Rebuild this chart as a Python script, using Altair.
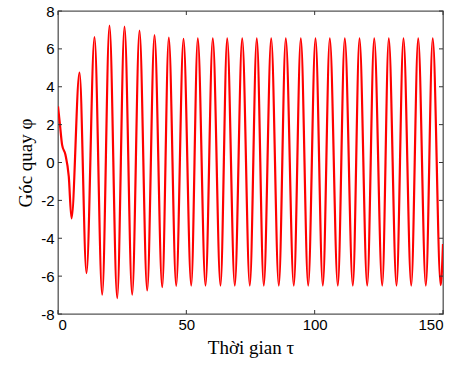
import altair as alt
import pandas as pd

# Time (tau) and rotation angle (phi) read at the start and at every peak / trough
t_vals = [0, 0.7, 1.6, 2.9, 4.2, 5.26, 8.38, 11.1, 14.22, 17.22, 20.06, 23.06, 25.91, 28.9,
          31.75, 34.75, 37.6, 40.6, 43.17, 46.05, 48.9, 51.9, 54.47, 57.47, 60.31, 63.31,
          65.92, 68.88, 71.77, 74.73, 77.45, 80.18, 83.06, 86.03, 88.75, 91.87, 94.6, 97.48,
          100.32, 103.18, 105.9, 109.02, 111.74, 114.87, 117.47, 120.47, 123.2, 126.32,
          128.88, 131.89, 134.6, 137.62, 140.34, 143.31, 146.0, 149.1, 150]
phi_vals = [2.96, 2.08, 0.93, 0.41, -0.74, -2.95, 4.75, -5.84, 6.62, -6.98, 7.23, -7.16, 7.18, -6.98,
            6.97, -6.76, 6.73, -6.58, 6.6, -6.51, 6.53, -6.5, 6.55, -6.5, 6.55, -6.5,
            6.55, -6.5, 6.55, -6.5, 6.55, -6.5, 6.55, -6.5, 6.55, -6.5, 6.55, -6.5,
            6.55, -6.5, 6.55, -6.5, 6.55, -6.5, 6.55, -6.5, 6.55, -6.5,
            6.55, -6.5, 6.55, -6.5, 6.55, -6.5, 6.55, -6.48, -4.3]

x_ticks = [0, 50, 100, 150]
y_ticks = [-8, -6, -4, -2, 0, 2, 4, 6, 8]

W, H = 385, 303
TICK = 4
TICK_COLOR = "#333333"

df = pd.DataFrame({"t": t_vals, "phi": phi_vals})
xt = pd.DataFrame({"t": x_ticks})
yt = pd.DataFrame({"phi": y_ticks})

xs = alt.Scale(domain=[0, 150], nice=False, zero=False)
ys = alt.Scale(domain=[-8, 8], nice=False, zero=False)
xa = alt.Axis(values=x_ticks, title="Thời gian  τ", labelPadding=3, titlePadding=6,
              labelExpr="'' + datum.value")
ya = alt.Axis(values=y_ticks, title="Góc quay φ", labelPadding=4, titlePadding=5,
              labelExpr="'' + datum.value")
X = alt.X("t:Q", scale=xs, axis=xa)
Y = alt.Y("phi:Q", scale=ys, axis=ya)

line = alt.Chart(df).mark_line(
    color="#ff0000", strokeWidth=2.2, interpolate="monotone", clip=True
).encode(x=X, y=Y)

bottom = alt.Chart(xt).mark_rule(color=TICK_COLOR, strokeWidth=1).encode(
    x=X, y=alt.value(H), y2=alt.value(H - TICK))
top = alt.Chart(xt).mark_rule(color=TICK_COLOR, strokeWidth=1).encode(
    x=X, y=alt.value(0), y2=alt.value(TICK))
left = alt.Chart(yt).mark_rule(color=TICK_COLOR, strokeWidth=1).encode(
    y=Y, x=alt.value(0), x2=alt.value(TICK))
right = alt.Chart(yt).mark_rule(color=TICK_COLOR, strokeWidth=1).encode(
    y=Y, x=alt.value(W), x2=alt.value(W - TICK))

chart = alt.layer(line, bottom, top, left, right).properties(
    width=W, height=H,
    autosize=alt.AutoSizeParams(type="none"),
    padding={"left": 58, "top": 11, "right": 22, "bottom": 51},
    background="white",
).configure_view(
    stroke="#555555", strokeWidth=1.3
).configure_axis(
    grid=False, ticks=False, tickSize=0, domain=False,
    labelFont="Liberation Sans", labelFontSize=15, labelColor="#000000",
    titleFont="Liberation Serif", titleFontSize=19, titleFontWeight="normal",
    titleColor="#000000",
)

chart.save("out.html", embed_options={"renderer": "svg", "actions": False})
